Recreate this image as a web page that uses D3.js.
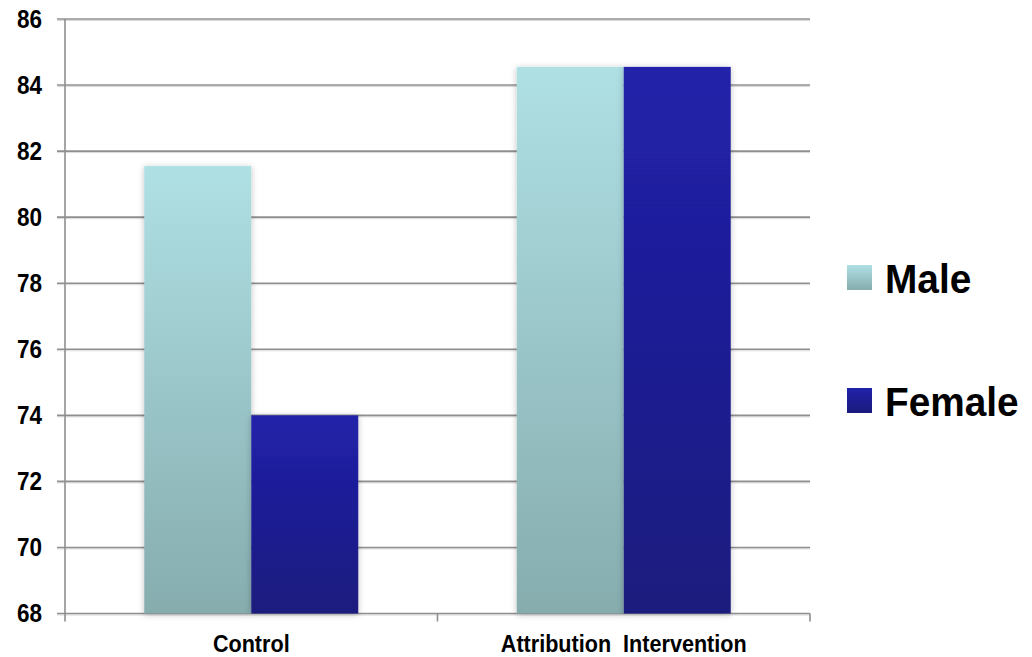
<!DOCTYPE html>
<html>
<head>
<meta charset="utf-8">
<script src="https://cdn.jsdelivr.net/npm/d3@7"></script>
<style>
  html, body { margin: 0; padding: 0; background: #ffffff; }
  svg { display: block; }
  text { font-family: "Liberation Sans Narrow", "Arial Narrow", "Liberation Sans", Arial, sans-serif; font-weight: bold; fill: #000; }
</style>
</head>
<body>
<svg id="chart" width="1032" height="657"></svg>
<script>
// Scores by condition and gender
const categories = ["Control", "Attribution  Intervention"];
const seriesNames = ["Male", "Female"];
const maleValues = [81.55, 84.55];
const femaleValues = [74.0, 84.55];
const yTicks = [68, 70, 72, 74, 76, 78, 80, 82, 84, 86];

const svg = d3.select("#chart");
const plotLeft = 65, plotRight = 810, plotTop = 19, plotBottom = 613.5;
const squeeze = 0.9; // horizontal condensing of the bold labels

const y = d3.scaleLinear().domain([68, 86]).range([plotBottom, plotTop]);
const x0 = d3.scaleBand().domain(categories).range([plotLeft, plotRight])
  .paddingInner(0.4255).paddingOuter(0.2128);
const x1 = d3.scaleBand().domain(seriesNames).range([0, x0.bandwidth()]);

const defs = svg.append("defs");
const grads = {
  Male: ["#afe0e4", "#86acae"],
  Female: ["#2121aa", "#1a1a7e"]
};
Object.entries(grads).forEach(([k, [c0, c1]]) => {
  const g = defs.append("linearGradient").attr("id", "grad-" + k)
    .attr("x1", 0).attr("y1", 0).attr("x2", 0).attr("y2", 1);
  g.append("stop").attr("offset", "0%").attr("stop-color", c0);
  g.append("stop").attr("offset", "100%").attr("stop-color", c1);
});
const shadow = defs.append("filter").attr("id", "barShadow")
  .attr("x", "-20%").attr("y", "-20%").attr("width", "140%").attr("height", "140%");
shadow.append("feDropShadow").attr("dx", 0).attr("dy", 1)
  .attr("stdDeviation", 3).attr("flood-color", "#000").attr("flood-opacity", 0.25);

// Horizontal gridlines with tick stubs on the left
const grid = svg.append("g");
yTicks.forEach(t => {
  grid.append("line")
    .attr("x1", plotLeft - 8).attr("x2", plotRight)
    .attr("y1", y(t) + 1.5).attr("y2", y(t) + 1.5)
    .attr("stroke", "#d8d8d8").attr("stroke-width", 1);
  grid.append("line")
    .attr("x1", plotLeft - 8).attr("x2", plotRight)
    .attr("y1", y(t)).attr("y2", y(t))
    .attr("stroke", "#8f8f8f").attr("stroke-width", 1.6);
});

// Y axis line, extending below the baseline
svg.append("line")
  .attr("x1", plotLeft).attr("x2", plotLeft)
  .attr("y1", plotTop).attr("y2", plotBottom + 8)
  .attr("stroke", "#8f8f8f").attr("stroke-width", 1.6);

// Category tick marks below the baseline
[plotLeft + x0.step(), plotRight].forEach(cx => {
  svg.append("line")
    .attr("x1", cx).attr("x2", cx)
    .attr("y1", plotBottom).attr("y2", plotBottom + 8)
    .attr("stroke", "#8f8f8f").attr("stroke-width", 1.6);
});

// Y tick labels
svg.append("g").selectAll("text").data(yTicks).join("text")
  .attr("transform", d => `translate(29.5,${y(d)}) scale(${squeeze},1)`)
  .attr("dy", "0.35em")
  .attr("text-anchor", "middle")
  .style("font-size", "25px")
  .text(d => d);

// Bars
const rows = categories.map((c, i) => ({ cat: c, values: [
  { key: "Male", v: maleValues[i] },
  { key: "Female", v: femaleValues[i] }
]}));

const groups = svg.append("g").selectAll("g").data(rows).join("g")
  .attr("transform", d => `translate(${x0(d.cat)},0)`);
groups.selectAll("rect").data(d => d.values).join("rect")
  .attr("x", d => x1(d.key))
  .attr("width", x1.bandwidth())
  .attr("y", d => y(d.v))
  .attr("height", d => y(68) - y(d.v))
  .attr("fill", d => `url(#grad-${d.key})`)
  .attr("filter", "url(#barShadow)");

// Category labels
svg.append("g").selectAll("text").data(categories).join("text")
  .attr("transform", d => `translate(${x0(d) + x0.bandwidth() / 2},652) scale(${squeeze},1.03)`)
  .attr("text-anchor", "middle")
  .style("font-size", "24px")
  .style("white-space", "pre")
  .text(d => d);

// Legend
const legend = svg.append("g");
seriesNames.forEach((s, i) => {
  const ly = 265 + i * 123;
  legend.append("rect")
    .attr("x", 847).attr("y", ly).attr("width", 25).attr("height", 25)
    .attr("fill", `url(#grad-${s})`);
  legend.append("text")
    .attr("transform", `translate(885,${ly + 28}) scale(0.995,1.02)`)
    .style("font-size", "39px")
    .text(s);
});
</script>
</body>
</html>
